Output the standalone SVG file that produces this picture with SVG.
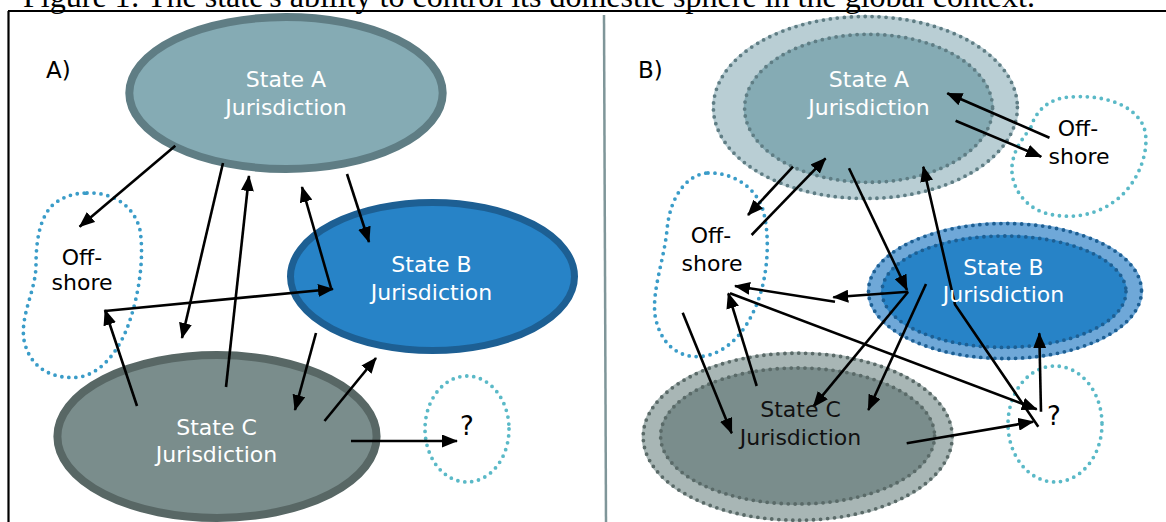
<svg xmlns="http://www.w3.org/2000/svg" width="1166" height="522" viewBox="0 0 1166 522">
<style>
.cap{font-family:"Liberation Serif","Times New Roman",serif;font-size:32px;fill:#000}
.lbl{font-family:"DejaVu Sans",Verdana,sans-serif;font-size:22px;text-anchor:middle}
.w{fill:#fff}
.k{fill:#000}
.q{font-size:26px}
.pl{font-family:"DejaVu Sans",Verdana,sans-serif;font-size:23px;fill:#000}
.dot{fill:none;stroke-width:3.8;stroke-dasharray:0 7;stroke-linecap:round}
.blue{stroke:#3a9cc8}
.teal{stroke:#5ab9c7}
.arr{fill:none;stroke:#000;stroke-width:2.6;marker-end:url(#ah)}
</style>
<defs>
<marker id="ah" viewBox="0 0 16 13" refX="15" refY="6.5" markerWidth="16" markerHeight="13" markerUnits="userSpaceOnUse" orient="auto">
<path d="M0,0 L16,6.5 L0,13 Z" fill="#000"/>
</marker>
</defs>
<rect width="1166" height="522" fill="#fff"/>
<text class="cap" x="23" y="7" textLength="1012" lengthAdjust="spacingAndGlyphs">Figure 1: The state's ability to control its domestic sphere in the global context.</text>
<g id="frame">
<line x1="8" y1="11" x2="1166" y2="11" stroke="#000" stroke-width="2.2"/>
<line x1="8.5" y1="11" x2="8.5" y2="522" stroke="#000" stroke-width="2.2"/>
<line x1="604" y1="15" x2="606" y2="522" stroke="#7f9699" stroke-width="2.5"/>
</g>
<text class="pl" x="46" y="78">A)</text>
<text class="pl" x="638" y="78">B)</text>

<!-- Panel A -->
<g id="a-offshore">
<path class="dot blue" d="M87,193 C112,192 134,205 140,230 C144,255 140,290 130,320 C122,345 105,372 80,377 C55,380 30,370 24,340 C20,315 36,290 36,265 C36,240 40,215 55,203 C65,196 75,193 87,193 Z"/>
<text class="lbl k" x="82" y="265">Off-</text>
<text class="lbl k" x="82" y="290">shore</text>
</g>
<g id="a-unknown">
<ellipse class="dot teal" cx="467" cy="429" rx="42" ry="53"/>
<text class="lbl k q" x="467" y="435">?</text>
</g>
<g id="a-stateA">
<ellipse cx="286" cy="93" rx="156.7" ry="76" fill="#85abb4" stroke="#5f7d84" stroke-width="8"/>
<text class="lbl w" x="286" y="87">State A</text>
<text class="lbl w" x="286" y="115">Jurisdiction</text>
</g>
<g id="a-stateB">
<ellipse cx="432.5" cy="276.5" rx="142" ry="74" fill="#2783c7" stroke="#1d5f93" stroke-width="7"/>
<text class="lbl w" x="431.5" y="272">State B</text>
<text class="lbl w" x="431.5" y="300">Jurisdiction</text>
</g>
<g id="a-stateC">
<ellipse cx="217" cy="436.5" rx="159.6" ry="81.5" fill="#7a8d8c" stroke="#586765" stroke-width="8"/>
<text class="lbl w" x="216.5" y="435">State C</text>
<text class="lbl w" x="216.5" y="462">Jurisdiction</text>
</g>

<!-- Panel B -->
<g id="b-offshore-right">
<path class="dot teal" d="M1031,127 C1036,110 1050,98 1070,97 C1095,95 1130,100 1143,125 C1152,145 1140,185 1112,203 C1095,215 1070,220 1045,213 C1020,205 1008,180 1013,160 C1016,145 1026,135 1031,127 Z"/>
<text class="lbl k" x="1078" y="136">Off-</text>
<text class="lbl k" x="1079" y="164">shore</text>
</g>
<g id="b-offshore-left">
<path class="dot blue" d="M708,173 C730,172 755,185 763,210 C770,235 768,270 760,295 C752,320 735,350 705,356 C680,360 660,345 655,315 C652,290 664,260 667,230 C670,195 688,174 708,173 Z"/>
<text class="lbl k" x="711" y="243">Off-</text>
<text class="lbl k" x="712" y="271">shore</text>
</g>
<g id="b-unknown">
<ellipse class="dot teal" cx="1055" cy="424" rx="47" ry="58"/>
<text class="lbl k q" x="1054" y="425">?</text>
</g>
<g id="b-stateA">
<ellipse cx="865.4" cy="107.5" rx="153.4" ry="92.5" fill="#b9ced4"/>
<ellipse class="dot" cx="865.4" cy="107.5" rx="152" ry="91" stroke="#5f7d84"/>
<ellipse cx="868.6" cy="108.3" rx="125" ry="75" fill="#85abb4"/>
<ellipse class="dot" cx="868.6" cy="108.3" rx="124" ry="74" stroke="#5f7d84"/>
<text class="lbl w" x="869" y="87">State A</text>
<text class="lbl w" x="869" y="115">Jurisdiction</text>
</g>
<g id="b-stateB">
<ellipse cx="1005" cy="291" rx="138" ry="69" fill="#6fa8d8"/>
<ellipse class="dot" cx="1005" cy="291" rx="136.5" ry="67.5" stroke="#1d5f93"/>
<ellipse cx="1004" cy="291.7" rx="123" ry="56.7" fill="#2783c7"/>
<ellipse class="dot" cx="1004" cy="291.7" rx="122" ry="55.7" stroke="#1d5f93"/>
</g>
<g id="b-stateC">
<ellipse cx="797.7" cy="436.7" rx="156" ry="85" fill="#a8b6b5"/>
<ellipse class="dot" cx="797.7" cy="436.7" rx="154.5" ry="83.5" stroke="#5a6a68"/>
<ellipse cx="797.6" cy="436" rx="138" ry="69" fill="#7a8d8c"/>
<ellipse class="dot" cx="797.6" cy="436" rx="137" ry="68" stroke="#5a6a68"/>
</g>

<g id="connectors">
<!-- Panel A -->
<line class="arr" x1="175.3" y1="145.7" x2="79.6" y2="226.7"/>
<line class="arr" x1="223" y1="163" x2="182" y2="338"/>
<line class="arr" x1="226" y1="387" x2="249" y2="176"/>
<line class="arr" x1="331" y1="288" x2="302" y2="187"/>
<line class="arr" x1="347" y1="174" x2="369" y2="242"/>
<line class="arr" x1="105" y1="311" x2="333" y2="289"/>
<line class="arr" x1="137" y1="406" x2="105" y2="310"/>
<line class="arr" x1="316" y1="333" x2="295" y2="410"/>
<line class="arr" x1="324.5" y1="421" x2="376" y2="358"/>
<line class="arr" x1="351" y1="441" x2="457" y2="441"/>
<!-- Panel B -->
<line class="arr" x1="1049.5" y1="137.7" x2="947.3" y2="93.3"/>
<line class="arr" x1="955.6" y1="120.7" x2="1041.2" y2="156.7"/>
<line class="arr" x1="793" y1="166.7" x2="748" y2="215"/>
<line class="arr" x1="751.6" y1="235" x2="825.6" y2="158.3"/>
<line class="arr" x1="849" y1="168.3" x2="907" y2="290"/>
<path class="arr" d="M1038.3,426.7 L955,304.5 L923.3,166.7"/>
<line class="arr" x1="1041" y1="411.7" x2="1039.3" y2="333.3"/>
<line class="arr" x1="730" y1="293.3" x2="1036.7" y2="409.3"/>
<line class="arr" x1="906.7" y1="443.3" x2="1033.3" y2="421.7"/>
<line class="arr" x1="908.3" y1="291.7" x2="833.3" y2="297.3"/>
<line class="arr" x1="835" y1="301.7" x2="735" y2="286"/>
<line class="arr" x1="908" y1="292" x2="813.3" y2="406.7"/>
<line class="arr" x1="926" y1="284" x2="868.3" y2="410"/>
<line class="arr" x1="756.7" y1="386" x2="728.3" y2="293.3"/>
<line class="arr" x1="682.7" y1="312.7" x2="731.7" y2="433.3"/>
</g>
<g id="b-labels">
<text class="lbl w" x="1003.5" y="275">State B</text>
<text class="lbl w" x="1003.5" y="302">Jurisdiction</text>
<text class="lbl k" x="800.5" y="417" style="fill:#111">State C</text>
<text class="lbl k" x="800.5" y="445" style="fill:#111">Jurisdiction</text>
</g>
</svg>
